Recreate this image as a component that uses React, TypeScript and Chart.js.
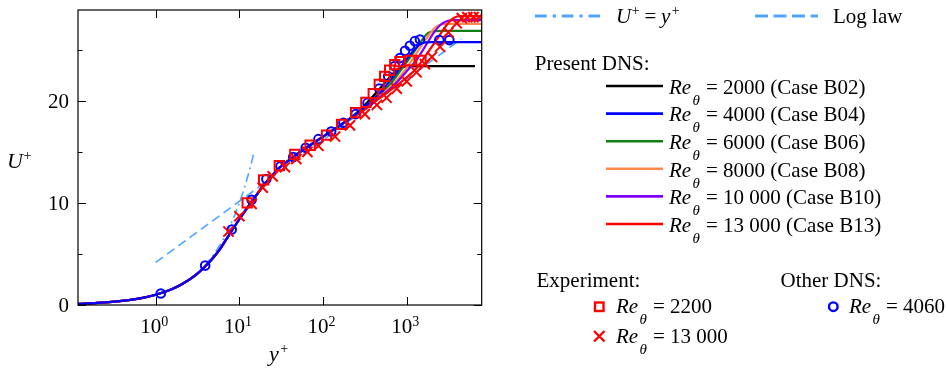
import React, { useEffect, useRef } from "react";
import { Chart, registerables } from "chart.js";

Chart.register(...registerables);

// ---------------- DATA ----------------
// Present DNS: shared inner-layer profile (y+, U+)
const innerYPlus = [0.118, 0.2, 0.3, 0.5, 0.7, 1, 1.5, 2, 3, 4, 5, 6, 7, 8, 10, 12, 15, 20, 25, 30, 40, 50, 70, 100, 150, 200];
const innerUPlus = [0.118, 0.2, 0.3, 0.5, 0.7, 1.0, 1.49, 1.98, 2.93, 3.86, 4.75, 5.6, 6.45, 7.2, 8.4, 9.35, 10.45, 11.85, 12.75, 13.45, 14.25, 14.85, 15.65, 16.5, 17.45, 18.15];

// Outer part of each DNS case
const b02YPlus = [300, 400, 500, 600, 700, 800, 900, 1000, 1500, 6550];
const b02UPlus = [19.4, 20.5, 21.4, 22.15, 22.75, 23.1, 23.3, 23.37, 23.4, 23.4];
const b04YPlus = [300, 400, 500, 600, 700, 850, 1000, 1200, 1400, 1600, 1900, 7870];
const b04UPlus = [19.25, 20.2, 21.0, 21.75, 22.4, 23.3, 24.1, 24.9, 25.45, 25.7, 25.75, 25.75];
const b06YPlus = [300, 400, 500, 630, 830, 1000, 1200, 1400, 1600, 1800, 2100, 2600, 7870];
const b06UPlus = [19.2, 20.05, 20.75, 21.6, 22.9, 23.8, 24.7, 25.5, 26.2, 26.65, 26.82, 26.85, 26.85];
const b08YPlus = [300, 400, 500, 700, 910, 1200, 1585, 1900, 2200, 2600, 3200, 7870];
const b08UPlus = [19.15, 19.95, 20.6, 21.7, 22.8, 24.2, 25.7, 26.6, 27.2, 27.5, 27.55, 27.55];
const b10YPlus = [300, 400, 500, 700, 1000, 1310, 1740, 2080, 2500, 3000, 3600, 7870];
const b10UPlus = [19.1, 19.9, 20.5, 21.5, 22.9, 24.0, 25.6, 26.6, 27.4, 27.8, 27.9, 27.9];
const b13YPlus = [300, 400, 500, 700, 1000, 1310, 1740, 2280, 2750, 3200, 3700, 4300, 7870];
const b13UPlus = [19.0, 19.8, 20.4, 21.3, 22.3, 23.2, 24.6, 26.0, 27.0, 27.7, 28.15, 28.3, 28.3];

// Experiment Re_theta = 2200 (squares)
const exp2200YPlus = [12.4, 19.5, 30, 46, 70, 110, 167, 245, 325, 398, 470, 545, 625, 720, 830, 1090, 1480];
const exp2200UPlus = [10.0, 12.25, 13.65, 14.75, 15.65, 16.65, 17.7, 18.85, 19.85, 20.7, 21.6, 22.4, 23.0, 23.55, 23.85, 23.95, 23.95];
// Experiment Re_theta = 13000 (crosses)
const exp13000YPlus = [7.4, 10, 14, 19, 25, 35, 48, 65, 88, 139, 210, 316, 440, 574, 760, 1000, 1310, 1650, 2000, 2500, 3150, 3960, 4550, 5300, 6270, 7300];
const exp13000UPlus = [7.2, 8.7, 9.9, 11.5, 12.6, 13.5, 14.3, 15.0, 15.6, 16.5, 17.6, 18.7, 19.6, 20.3, 21.2, 21.9, 22.8, 23.6, 24.3, 25.3, 26.7, 27.6, 28.1, 28.2, 28.2, 28.2];
// Other DNS Re_theta = 4060 (circles)
const dns4060YPlus = [1.15, 3.9, 8.1, 14, 21, 31, 44, 62, 88, 125, 175, 245, 340, 470, 600, 720, 830, 955, 1090, 1250, 1440, 2450, 3230];
const dns4060UPlus = [1.12, 3.86, 7.4, 10.3, 12.35, 13.6, 14.5, 15.4, 16.25, 17.0, 17.85, 18.7, 19.8, 21.2, 22.4, 23.4, 24.2, 24.9, 25.4, 25.85, 26.0, 25.95, 25.95];

// U+ = y+
const linearYPlus = [1, 2, 3, 4, 5, 6, 7, 8, 9, 10, 11, 12, 13, 14, 15];
const linearUPlus = [1, 2, 3, 4, 5, 6, 7, 8, 9, 10, 11, 12, 13, 14, 15];
// Log law
const logLawYPlus = [1, 4500];
const logLawUPlus = [4.17, 26.07];

// Axes / ticks
const xMin = 0.1178;
const xMax = 7870;
const yMin = 0;
const yMax = 28.9;
const xTickValues = [1, 10, 100, 1000];
const xTickExponents = ["0", "1", "2", "3"];
const yTickValues = [0, 10, 20];
const yTickLabels = ["0", "10", "20"];
const yMinorTickValues = [5, 15, 25];

// Legend texts
const dnsReValues = ["2000", "4000", "6000", "8000", "10 000", "13 000"];
const dnsCaseNames = ["B02", "B04", "B06", "B08", "B10", "B13"];
const dnsColors = ["#000000", "#0000ff", "#108010", "#ff8a4c", "#8000ff", "#ff0000"];

// ---------------- HELPERS ----------------
const SERIF = '"Liberation Serif", "Times New Roman", serif';
const f = (size: number, italic = false) => `${italic ? "italic " : ""}${size}px ${SERIF}`;
const pts = (xs: number[], ys: number[]) => xs.map((x, i) => ({ x, y: ys[i] }));
const LIGHT_BLUE = "#4da6ff";

function drawRe(ctx: CanvasRenderingContext2D, x: number, y: number, rest: string) {
  ctx.font = f(21, true);
  ctx.fillText("Re", x, y);
  ctx.font = f(15, true);
  ctx.fillText("θ", x + 23.5, y + 11);
  ctx.font = f(21);
  ctx.fillText("= " + rest, x + 37, y);
}

// italic symbol followed by a superscript "+"
function drawSymPlus(ctx: CanvasRenderingContext2D, sym: string, x: number, y: number, size: number, gap: number) {
  ctx.font = f(size, true);
  ctx.fillText(sym, x, y);
  const w = ctx.measureText(sym).width;
  ctx.font = f(14);
  ctx.fillText("+", x + w + gap, y - 8);
  return x + w + gap + ctx.measureText("+").width;
}

const decorPlugin = {
  id: "decor",
  afterDraw(chart: any) {
    const ctx: CanvasRenderingContext2D = chart.ctx;
    const { left, right, top, bottom } = chart.chartArea;
    const xs = chart.scales.x;
    const ys = chart.scales.y;
    ctx.save();
    ctx.fillStyle = "#000";
    ctx.strokeStyle = "#000";
    ctx.textBaseline = "alphabetic";

    // frame
    ctx.lineWidth = 1.2;
    ctx.setLineDash([]);
    ctx.strokeRect(left, top, right - left, bottom - top);

    // x ticks (inward, bottom and top)
    ctx.lineWidth = 1;
    xTickValues.forEach((v) => {
      const px = Math.round(xs.getPixelForValue(v)) + 0.5;
      ctx.beginPath();
      ctx.moveTo(px, bottom);
      ctx.lineTo(px, bottom - 8);
      ctx.moveTo(px, top);
      ctx.lineTo(px, top + 8);
      ctx.stroke();
    });
    // y ticks
    yTickValues.forEach((v) => {
      const py = Math.round(ys.getPixelForValue(v)) + 0.5;
      ctx.beginPath();
      ctx.moveTo(left, py);
      ctx.lineTo(left + 8, py);
      ctx.moveTo(right, py);
      ctx.lineTo(right - 8, py);
      ctx.stroke();
    });
    yMinorTickValues.forEach((v) => {
      const py = Math.round(ys.getPixelForValue(v)) + 0.5;
      ctx.beginPath();
      ctx.moveTo(left, py);
      ctx.lineTo(left + 4.5, py);
      ctx.moveTo(right, py);
      ctx.lineTo(right - 4.5, py);
      ctx.stroke();
    });

    // x tick labels 10^n
    xTickValues.forEach((v, i) => {
      const px = xs.getPixelForValue(v);
      const x0 = px - 15.5;
      ctx.font = f(21);
      ctx.fillText("10", x0, 333);
      ctx.font = f(14);
      ctx.fillText(xTickExponents[i], x0 + 21, 325.7);
    });
    // y tick labels
    ctx.textAlign = "right";
    ctx.font = f(21);
    yTickValues.forEach((v, i) => {
      const py = ys.getPixelForValue(v);
      ctx.fillText(yTickLabels[i], 69, py + 7);
    });
    ctx.textAlign = "left";

    // axis titles
    drawSymPlus(ctx, "U", 7, 168, 22, 0.5);
    drawSymPlus(ctx, "y", 269, 361, 22, 1.5);

    // ---- legend ----
    ctx.lineCap = "butt";
    ctx.strokeStyle = LIGHT_BLUE;
    ctx.lineWidth = 3;
    ctx.setLineDash([11.7, 6, 3.3, 5.7]);
    ctx.beginPath();
    ctx.moveTo(535, 16);
    ctx.lineTo(602, 16);
    ctx.stroke();
    ctx.setLineDash([13, 5.5]);
    ctx.beginPath();
    ctx.moveTo(755, 16);
    ctx.lineTo(818, 16);
    ctx.stroke();
    ctx.setLineDash([]);

    ctx.fillStyle = "#000";
    let cx = drawSymPlus(ctx, "U", 616, 23, 21, 0.5);
    ctx.font = f(21);
    ctx.fillText("=", cx + 5, 23);
    cx = cx + 5 + ctx.measureText("=").width + 4.5;
    drawSymPlus(ctx, "y", cx, 23, 21, 1.5);
    ctx.font = f(21);
    ctx.fillText("Log law", 833, 23);

    // Present DNS
    ctx.font = f(21);
    ctx.fillText("Present DNS:", 534.7, 70);
    dnsReValues.forEach((re, i) => {
      const ly = 86 + i * 27.6;
      ctx.strokeStyle = dnsColors[i];
      ctx.lineWidth = 2.6;
      ctx.beginPath();
      ctx.moveTo(606, ly);
      ctx.lineTo(663, ly);
      ctx.stroke();
      ctx.fillStyle = "#000";
      drawRe(ctx, 669, ly + 7.7, `${re} (Case ${dnsCaseNames[i]})`);
    });

    // Experiment / Other DNS
    ctx.fillStyle = "#000";
    ctx.font = f(21);
    ctx.fillText("Experiment:", 536.5, 286.7);
    ctx.fillText("Other DNS:", 780.5, 286.7);

    ctx.strokeStyle = "#ff0000";
    ctx.lineWidth = 2.4;
    ctx.strokeRect(595, 302.5, 8.5, 8.5);
    ctx.beginPath();
    ctx.moveTo(594, 331);
    ctx.lineTo(604.5, 341.5);
    ctx.moveTo(604.5, 331);
    ctx.lineTo(594, 341.5);
    ctx.stroke();
    ctx.strokeStyle = "#0000ff";
    ctx.beginPath();
    ctx.arc(833.3, 306.7, 4.3, 0, Math.PI * 2);
    ctx.stroke();

    ctx.fillStyle = "#000";
    drawRe(ctx, 616, 312.7, "2200");
    drawRe(ctx, 616, 342.7, "13 000");
    drawRe(ctx, 849, 312.7, "4060");

    ctx.restore();
  },
};

// ---------------- COMPONENT ----------------
export default function App() {
  const ref = useRef<HTMLCanvasElement | null>(null);

  useEffect(() => {
    if (!ref.current) return;
    const line = (label: string, xsA: number[], ysA: number[], color: string, order: number) => ({
      label,
      data: pts(innerYPlus.concat(xsA), innerUPlus.concat(ysA)),
      borderColor: color,
      backgroundColor: color,
      borderWidth: 2.2,
      pointRadius: 0,
      cubicInterpolationMode: "monotone" as const,
      order,
    });
    const markers = (label: string, xsA: number[], ysA: number[], color: string, style: string, radius: number, order: number) => ({
      label,
      data: pts(xsA, ysA),
      showLine: false,
      borderColor: color,
      backgroundColor: "rgba(0,0,0,0)",
      pointStyle: style,
      pointRadius: radius,
      pointBorderWidth: 2,
      order,
    });

    const chart = new Chart(ref.current, {
      type: "line",
      data: {
        datasets: [
          markers("Re 13000 exp", exp13000YPlus, exp13000UPlus, "#ff0000", "crossRot", 7.2, 0),
          markers("Re 2200 exp", exp2200YPlus, exp2200UPlus, "#ff0000", "rect", 6.6, 1),
          markers("Re 4060 DNS", dns4060YPlus, dns4060UPlus, "#0000ff", "circle", 4.3, 2),
          line("B04", b04YPlus, b04UPlus, dnsColors[1], 3),
          line("B13", b13YPlus, b13UPlus, dnsColors[5], 4),
          line("B10", b10YPlus, b10UPlus, dnsColors[4], 5),
          line("B08", b08YPlus, b08UPlus, dnsColors[3], 6),
          line("B06", b06YPlus, b06UPlus, dnsColors[2], 7),
          line("B02", b02YPlus, b02UPlus, dnsColors[0], 8),
          {
            label: "U+ = y+",
            data: pts(linearYPlus, linearUPlus),
            borderColor: LIGHT_BLUE,
            borderWidth: 1.6,
            borderDash: [9, 4, 2, 4],
            pointRadius: 0,
            order: 9,
          },
          {
            label: "Log law",
            data: pts(logLawYPlus, logLawUPlus),
            borderColor: LIGHT_BLUE,
            borderWidth: 1.6,
            borderDash: [9, 5],
            pointRadius: 0,
            order: 10,
          },
        ] as any,
      },
      options: {
        animation: false,
        responsive: false,
        devicePixelRatio: 1,
        layout: { padding: { left: 78, right: 465.3, top: 10, bottom: 66 } },
        plugins: { legend: { display: false }, tooltip: { enabled: false } },
        events: [],
        scales: {
          x: { type: "logarithmic", min: xMin, max: xMax, bounds: "data", display: false },
          y: { type: "linear", min: yMin, max: yMax, bounds: "data", display: false },
        },
      } as any,
      plugins: [decorPlugin],
    });
    return () => chart.destroy();
  }, []);

  return (
    <div style={{ position: "absolute", left: 0, top: 0, width: 947, height: 371, background: "#fff" }}>
      <canvas ref={ref} width={947} height={371} style={{ width: 947, height: 371, display: "block" }} />
    </div>
  );
}
